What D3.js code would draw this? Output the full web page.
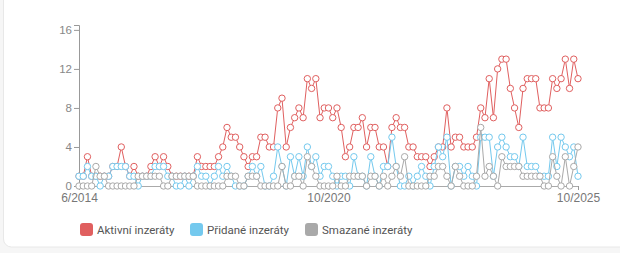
<!DOCTYPE html>
<html>
<head>
<meta charset="utf-8">
<script src="https://cdn.jsdelivr.net/npm/d3@7"></script>
<style>
  html, body { margin: 0; padding: 0; background: #f6f6f6; }
  svg { display: block; font-family: Roboto, 'Noto Sans', sans-serif; }
</style>
</head>
<body>
<div class="svg-container"></div>
<script>
// values per period (index 0 = 6/2014, last = 10/2025)
const aktivni = [1,1,3,1,1,1,1,1,2,2,4,2,1,2,1,1,1,2,3,2,3,2,1,1,1,1,1,1,3,2,
  2,2,2,3,4,6,5,5,4,3,2,3,3,5,5,4,4,8,9,4,6,7,8,7,11,10,11,7,8,8,
  7,8,6,3,4,6,6,7,4,6,6,4,4,2,6,7,6,6,4,4,3,3,3,2,3,4,4,8,4,5,
  5,4,4,4,5,8,7,11,7,12,13,13,10,8,6,10,11,11,11,8,8,8,11,10,11,13,10,13,11];
const pridane = [1,1,2,1,1,0,1,1,2,2,2,2,1,1,0,1,1,1,2,2,2,1,1,0,0,1,0,1,2,1,
  1,0,1,2,1,2,1,0,0,0,1,2,1,2,0,0,1,4,2,0,3,1,3,1,4,2,3,1,2,2,
  1,0,1,1,0,3,1,1,0,3,1,0,2,2,5,2,0,0,1,0,1,2,1,0,2,4,3,5,0,2,
  2,1,2,1,0,5,5,5,1,4,5,4,3,3,2,5,2,2,2,1,1,1,5,2,5,4,3,4,1];
const smazane = [0,0,0,0,2,1,1,0,0,0,0,0,0,0,1,1,1,1,1,1,0,0,1,1,1,1,1,1,0,0,
  0,0,0,0,0,1,1,1,0,0,1,1,1,0,0,0,0,0,2,0,0,1,1,0,3,2,1,0,0,0,
  0,1,0,0,1,1,1,1,0,1,1,0,1,0,1,2,1,3,0,0,0,0,0,1,1,2,2,1,0,2,
  1,0,0,0,1,6,1,2,1,0,3,2,2,2,2,1,1,1,1,1,0,0,3,1,0,3,0,2,4];

const tickIndex = [0, 59, 118];
const tickLabels = ['6/2014', '10/2020', '10/2025'];
const yTicks = [0, 4, 8, 12, 16];

const seriesNames = ['Aktivní inzeráty', 'Přidané inzeráty', 'Smazané inzeráty'];
const seriesColors = ['#e05f5f', '#74c9ee', '#a9a9a9'];

const renderChart = () => {
  const width = 620;
  const height = 253;
  const x0 = 79, x1 = 578;
  const yBottom = 186, yTop = 25;

  const svg = d3.select('.svg-container')
    .append('svg')
    .attr('width', width)
    .attr('height', height);

  // card
  svg.append('rect')
    .attr('x', 3.5).attr('y', -10)
    .attr('width', 640).attr('height', 257)
    .attr('rx', 8)
    .style('fill', '#fff')
    .style('stroke', '#e8e8e8');

  const n = aktivni.length;
  const x = d3.scaleLinear().domain([0, n - 1]).range([x0, x1]);
  const y = d3.scaleLinear().domain([0, 16.5]).range([yBottom, yTop]);

  // y axis
  const yAxis = svg.append('g')
    .attr('transform', `translate(${x0},0)`)
    .call(d3.axisLeft(y).tickValues(yTicks).tickSize(5).tickPadding(2));
  yAxis.select('.domain').attr('stroke', '#999');
  yAxis.selectAll('.tick line').attr('stroke', '#999');
  yAxis.selectAll('text').attr('fill', '#888').attr('dy', '0.28em').style('font-size', '11.5px');

  // x axis
  const xAxis = svg.append('g')
    .attr('transform', `translate(0,${yBottom})`)
    .call(d3.axisBottom(x).tickValues(tickIndex)
      .tickFormat((d, i) => tickLabels[i]).tickSize(4).tickPadding(3));
  xAxis.select('.domain').attr('stroke', '#aaa');
  xAxis.selectAll('.tick line').attr('stroke', '#999');
  xAxis.selectAll('text').attr('fill', '#777').style('font-size', '12px');

  const line = d3.line()
    .x((d, i) => x(i))
    .y(d => y(d));

  [aktivni, pridane, smazane].forEach((values, s) => {
    const g = svg.append('g');
    g.append('path')
      .attr('d', line(values))
      .style('fill', 'none')
      .attr('stroke', seriesColors[s])
      .attr('stroke-width', 1);
    g.selectAll('circle')
      .data(values)
      .enter()
      .append('circle')
      .attr('cx', (d, i) => x(i))
      .attr('cy', d => y(d))
      .attr('r', 3.2)
      .style('fill', '#fff')
      .attr('stroke', seriesColors[s])
      .attr('stroke-width', 1);
  });

  // legend
  const legendX = [80, 190, 305];
  const legend = svg.append('g')
    .selectAll('g')
    .data(seriesNames)
    .enter()
    .append('g')
    .attr('transform', (d, i) => `translate(${legendX[i]},223)`);
  legend.append('rect')
    .attr('width', 13).attr('height', 13).attr('rx', 3)
    .style('fill', (d, i) => seriesColors[i]);
  legend.append('text')
    .attr('x', 17).attr('y', 10.5)
    .style('font-size', '11.5px')
    .attr('fill', '#555')
    .text(d => d);
};

renderChart();
</script>
</body>
</html>
